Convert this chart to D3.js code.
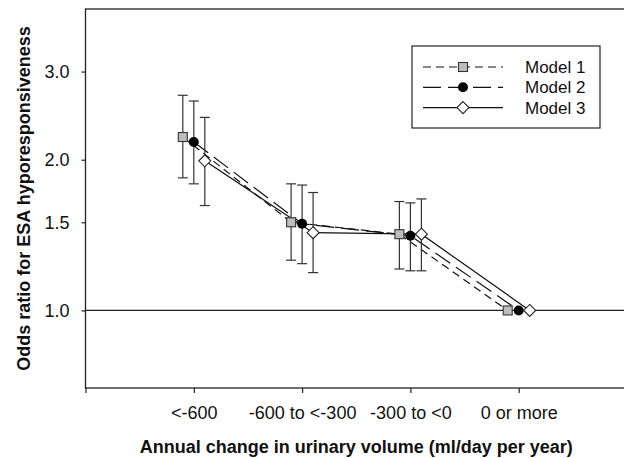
<!DOCTYPE html>
<html>
<head>
<meta charset="utf-8">
<script src="https://cdn.jsdelivr.net/npm/d3@7"></script>
<style>
  body { margin: 0; background: #fff; }
  svg { font-family: 'Liberation Sans', Arial, sans-serif; }
</style>
</head>
<body>
<div class="chart"></div>
<script>
const categories = ['<-600', '-600 to <-300', '-300 to <0', '0 or more'];
const modelNames = ['Model 1', 'Model 2', 'Model 3'];
const model1 = [2.22, 1.50, 1.42, 1.0];
const model1Lo = [1.84, 1.26, 1.21, null];
const model1Hi = [2.69, 1.79, 1.65, null];
const model2 = [2.17, 1.49, 1.41, 1.0];
const model2Lo = [1.79, 1.24, 1.20, null];
const model2Hi = [2.62, 1.78, 1.64, null];
const model3 = [1.99, 1.43, 1.42, 1.0];
const model3Lo = [1.62, 1.19, 1.20, null];
const model3Hi = [2.43, 1.72, 1.67, null];
const yTicks = [1.0, 1.5, 2.0, 3.0];

const series = [
    {name: modelNames[0], or: model1, lo: model1Lo, hi: model1Hi, dash: '8,5', shape: 'square', offset: -11},
    {name: modelNames[1], or: model2, lo: model2Lo, hi: model2Hi, dash: '18,7', shape: 'circle', offset: 0},
    {name: modelNames[2], or: model3, lo: model3Lo, hi: model3Hi, dash: null, shape: 'diamond', offset: 11}
];

let margin = {top: 9, right: 0, bottom: 70, left: 85.5};
let width = 541.5;
let height = 379;
const ink = '#222';

let svg = d3.select('.chart').append('svg')
    .attr('width', 624)
    .attr('height', 458)
    .append('g')
    .attr('transform', 'translate(' + margin.left + ',' + margin.top + ')');

let xScale = d3.scaleLinear()
    .domain([0, categories.length + 1])
    .range([0, width]);

let yScale = d3.scaleLog()
    .domain([0.7, 4])
    .range([height, 0]);

// frame
svg.append('rect')
    .attr('width', width)
    .attr('height', height)
    .attr('fill', 'none')
    .attr('stroke', ink)
    .attr('stroke-width', 1.3);

// reference line at 1.0
svg.append('line')
    .attr('x1', 0).attr('x2', width)
    .attr('y1', yScale(1)).attr('y2', yScale(1))
    .attr('stroke', ink)
    .attr('stroke-width', 1.2);

let xAxis = d3.axisBottom(xScale)
    .tickValues(d3.range(0, categories.length + 2))
    .tickSize(5)
    .tickPadding(13)
    .tickFormat(function(i){ return categories[i - 1] || ''; });

let yAxis = d3.axisLeft(yScale)
    .tickValues(yTicks)
    .tickSize(4)
    .tickPadding(12)
    .tickFormat(d3.format('.1f'));

svg.append('g')
    .attr('class', 'x axis')
    .attr('transform', 'translate(0,' + height + ')')
    .call(xAxis)
    .call(g => g.select('.domain').remove())
    .call(g => g.selectAll('line').attr('stroke', ink).attr('stroke-width', 1.2))
    .selectAll('text')
    .attr('fill', '#111')
    .style('font-size', '18px');

svg.append('g')
    .attr('class', 'y axis')
    .call(yAxis)
    .call(g => g.select('.domain').remove())
    .call(g => g.selectAll('line').attr('stroke', ink).attr('stroke-width', 1.2))
    .selectAll('text')
    .attr('fill', '#111')
    .style('font-size', '18px');

// axis titles
svg.append('text')
    .attr('x', width / 2)
    .attr('y', height + 65)
    .attr('text-anchor', 'middle')
    .style('font-size', '18px')
    .style('font-weight', 'bold')
    .attr('fill', '#111')
    .text('Annual change in urinary volume (ml/day per year)');

svg.append('text')
    .attr('transform', 'translate(' + (-margin.left + 30) + ',' + (height / 2) + ')rotate(-90)')
    .attr('text-anchor', 'middle')
    .style('font-size', '18px')
    .style('font-weight', 'bold')
    .attr('fill', '#111')
    .text('Odds ratio for ESA hyporesponsiveness');

function drawMarker(sel, shape){
    if (shape === 'square') {
        sel.append('rect')
            .attr('x', -4.5).attr('y', -4.5)
            .attr('width', 9).attr('height', 9)
            .attr('fill', '#bdbdbd')
            .attr('stroke', '#333')
            .attr('stroke-width', 1.1);
    } else if (shape === 'circle') {
        sel.append('circle')
            .attr('r', 5)
            .attr('fill', '#000');
    } else {
        sel.append('path')
            .attr('d', 'M0,-6L6,0L0,6L-6,0Z')
            .attr('fill', '#fff')
            .attr('stroke', '#222')
            .attr('stroke-width', 1.1);
    }
}

let line = d3.line()
    .x(function(d){ return d.x; })
    .y(function(d){ return yScale(d.v); });

series.forEach(function(s){
    let pts = s.or.map(function(v, i){
        return {x: xScale(i + 1) + s.offset, v: v, lo: s.lo[i], hi: s.hi[i]};
    });
    s.pts = pts;

    svg.append('path')
        .datum(pts)
        .attr('d', line)
        .attr('fill', 'none')
        .attr('stroke', '#111')
        .attr('stroke-width', 1.2)
        .attr('stroke-dasharray', s.dash);

    let bars = svg.append('g').selectAll('g')
        .data(pts.filter(function(d){ return d.lo !== null; }))
        .enter().append('g')
        .attr('stroke', '#333')
        .attr('stroke-width', 1.2);
    bars.append('line')
        .attr('x1', d => d.x).attr('x2', d => d.x)
        .attr('y1', d => yScale(d.lo)).attr('y2', d => yScale(d.hi));
    bars.append('line')
        .attr('x1', d => d.x - 5).attr('x2', d => d.x + 5)
        .attr('y1', d => yScale(d.hi)).attr('y2', d => yScale(d.hi));
    bars.append('line')
        .attr('x1', d => d.x - 5).attr('x2', d => d.x + 5)
        .attr('y1', d => yScale(d.lo)).attr('y2', d => yScale(d.lo));
});

series.forEach(function(s){
    svg.append('g').selectAll('g')
        .data(s.pts)
        .enter().append('g')
        .attr('transform', d => 'translate(' + d.x + ',' + yScale(d.v) + ')')
        .each(function(){ drawMarker(d3.select(this), s.shape); });
});

// legend
let legend = svg.append('g')
    .attr('transform', 'translate(' + (412 - margin.left) + ',' + (46 - margin.top) + ')');

legend.append('rect')
    .attr('width', 188)
    .attr('height', 82)
    .attr('fill', '#fff')
    .attr('stroke', ink)
    .attr('stroke-width', 1.2);

let rows = legend.selectAll('.row')
    .data(series)
    .enter().append('g')
    .attr('class', 'row')
    .attr('transform', function(d, i){ return 'translate(0,' + (21 + i * 20.3) + ')'; });

rows.append('line')
    .attr('x1', 11).attr('x2', 91)
    .attr('stroke', '#111')
    .attr('stroke-width', 1.2)
    .attr('stroke-dasharray', d => d.dash);

rows.append('g')
    .attr('transform', 'translate(51,0)')
    .each(function(d){ drawMarker(d3.select(this), d.shape); });

rows.append('text')
    .attr('x', 113)
    .attr('dy', '0.35em')
    .style('font-size', '17px')
    .attr('fill', '#111')
    .text(d => d.name);
</script>
</body>
</html>
